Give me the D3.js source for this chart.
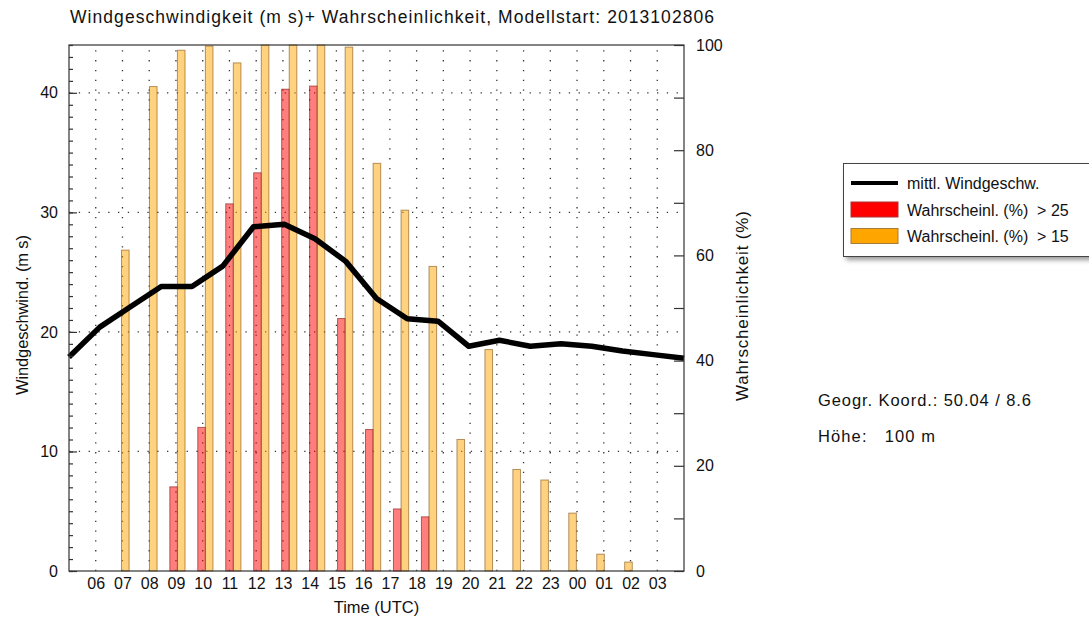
<!DOCTYPE html>
<html>
<head>
<meta charset="utf-8">
<script src="https://cdn.jsdelivr.net/npm/d3@7"></script>
<style>
body { margin: 0; background: #fff; }
text { font-family: "Liberation Sans", Arial, Helvetica, sans-serif; fill: #111; }
</style>
</head>
<body>
<script>
// hour labels on the time axis (UTC)
var hours = ["06","07","08","09","10","11","12","13","14","15","16","17","18","19","20","21","22","23","00","01","02","03"];
// probability (%) of wind > 25 m/s, one value per hour label
var probOver25 = [0,0,0,16.0,27.3,69.8,75.7,91.6,92.2,48.0,26.9,11.8,10.3,0,0,0,0,0,0,0,0,0];
// probability (%) of wind > 15 m/s
var probOver15 = [0,61.0,92.1,99.0,99.8,96.6,100,100,100,99.6,77.5,68.6,57.9,25.0,42.1,19.3,17.3,11.0,3.2,1.7,0,0];
// mean wind speed (m/s) along the run
var windSpeed = [17.9,20.4,22.1,23.8,23.8,25.5,28.8,29.0,27.8,25.9,22.8,21.1,20.9,18.8,19.3,18.8,19.0,18.8,18.4,18.1,17.8];
// axis ticks
var windTicks = [0,10,20,30,40];
var probTicks = [0,20,40,60,80,100];
var legendLabels = ["mittl. Windgeschw.", "Wahrscheinl. (%)  > 25", "Wahrscheinl. (%)  > 15"];

var W = 1089, H = 622;
var pLeft = 69, pRight = 684, pTop = 45, pBottom = 571;

var svg = d3.select("body").append("svg")
  .attr("width", W)
  .attr("height", H);

svg.append("rect").attr("width", W).attr("height", H).attr("fill", "#fff");

//scales: gridlines/labels use one time scale, the bars and the line sit on their own spacing
var timeX = d3.scaleLinear().domain([0, hours.length + 1]).range([pLeft, pRight]);
var barX = d3.scaleLinear().domain([0, hours.length]).range([pLeft, pRight]);
var lineX = d3.scaleLinear().domain([0, windSpeed.length - 1]).range([pLeft, pRight]);
var yWind = d3.scaleLinear().domain([0, 44]).range([pBottom, pTop]);
var yProb = d3.scaleLinear().domain([0, 100]).range([pBottom, pTop]);

//dotted grid
var grid = svg.append("g").attr("stroke", "#333").attr("stroke-width", 1.3).attr("stroke-dasharray", "1.3,8.5");
grid.selectAll(".vg").data(hours).enter().append("line")
  .attr("x1", function(d, i) { return timeX(i + 1); })
  .attr("x2", function(d, i) { return timeX(i + 1); })
  .attr("y1", pBottom).attr("y2", pTop);
grid.selectAll(".hg").data(windTicks.slice(1)).enter().append("line")
  .attr("x1", pLeft).attr("x2", pRight)
  .attr("y1", function(d) { return yWind(d); })
  .attr("y2", function(d) { return yWind(d); });

//bars, red ones just left of the orange ones
var bw = 7.6;
var bars = svg.append("g");
probOver25.forEach(function(v, i) {
  if (v <= 0) return;
  bars.append("rect")
    .attr("x", barX(i + 1) - 3.4 - bw)
    .attr("y", yProb(v))
    .attr("width", bw)
    .attr("height", pBottom - yProb(v))
    .attr("fill", "rgba(255,0,0,0.5)")
    .attr("stroke", "rgba(120,0,0,0.55)")
    .attr("stroke-width", 1);
});
probOver15.forEach(function(v, i) {
  if (v <= 0) return;
  bars.append("rect")
    .attr("x", barX(i + 1) - 3.4)
    .attr("y", yProb(v))
    .attr("width", bw)
    .attr("height", pBottom - yProb(v))
    .attr("fill", "rgba(255,165,0,0.5)")
    .attr("stroke", "rgba(120,70,0,0.55)")
    .attr("stroke-width", 1);
});

//mean wind speed line
var line = d3.line()
  .x(function(d, i) { return lineX(i); })
  .y(function(d) { return yWind(d); });
svg.append("path")
  .datum(windSpeed)
  .attr("d", line)
  .attr("fill", "none")
  .attr("stroke", "#000")
  .attr("stroke-width", 5.5)
  .attr("stroke-linejoin", "round");

//frame
svg.append("rect")
  .attr("x", pLeft).attr("y", pTop)
  .attr("width", pRight - pLeft).attr("height", pBottom - pTop)
  .attr("fill", "none").attr("stroke", "#333").attr("stroke-width", 1.2);

//left axis: minor ticks inward, labels outside
svg.append("g").attr("class", "axis")
  .attr("transform", "translate(" + pLeft + ",0)")
  .call(d3.axisRight(yWind).tickValues(d3.range(0, 45)).tickSize(4).tickFormat(""));
svg.append("g").attr("class", "axis")
  .attr("transform", "translate(" + pLeft + ",0)")
  .call(d3.axisRight(yWind).tickValues(windTicks).tickSize(8).tickFormat(""));
svg.append("g").attr("class", "axis lab")
  .attr("transform", "translate(" + pLeft + ",0)")
  .call(d3.axisLeft(yWind).tickValues(windTicks).tickSize(0).tickPadding(11));

//right axis
svg.append("g").attr("class", "axis")
  .attr("transform", "translate(" + pRight + ",0)")
  .call(d3.axisLeft(yProb).tickValues(d3.range(0, 101, 10)).tickSize(10).tickFormat(""));
svg.append("g").attr("class", "axis lab")
  .attr("transform", "translate(" + pRight + ",0)")
  .call(d3.axisRight(yProb).tickValues(probTicks).tickSize(0).tickPadding(12));

//time labels
svg.append("g").attr("class", "axis lab")
  .attr("transform", "translate(0," + pBottom + ")")
  .call(d3.axisBottom(timeX).tickValues(d3.range(1, hours.length + 1))
    .tickFormat(function(i) { return hours[i - 1]; }).tickSize(0).tickPadding(7));

svg.selectAll(".axis .domain").remove();
svg.selectAll(".axis line").attr("stroke", "#333").attr("stroke-width", 1.2);
svg.selectAll(".lab text").attr("font-size", 16).attr("font-family", null).attr("fill", "#111");

//titles
svg.append("text").attr("x", 70).attr("y", 23).attr("font-size", 17.5)
  .attr("textLength", 644).attr("lengthAdjust", "spacing")
  .text("Windgeschwindigkeit (m s)+ Wahrscheinlichkeit, Modellstart: 2013102806");
svg.append("text").attr("text-anchor", "middle").attr("font-size", 16.5)
  .attr("transform", "translate(28,315)rotate(-90)")
  .attr("textLength", 160).attr("lengthAdjust", "spacing")
  .text("Windgeschwind. (m s)");
svg.append("text").attr("text-anchor", "middle").attr("font-size", 17)
  .attr("transform", "translate(748,306)rotate(-90)")
  .attr("textLength", 190).attr("lengthAdjust", "spacing")
  .text("Wahrscheinlichkeit (%)");
svg.append("text").attr("text-anchor", "middle").attr("font-size", 16.5)
  .attr("x", (pLeft + pRight) / 2).attr("y", 613)
  .text("Time (UTC)");

//legend with a soft shadow
var defs = svg.append("defs");
var f = defs.append("filter").attr("id", "shadow").attr("x", "-10%").attr("y", "-10%").attr("width", "130%").attr("height", "140%");
f.append("feGaussianBlur").attr("stdDeviation", 2.5);
svg.append("rect").attr("x", 846).attr("y", 167).attr("width", 260).attr("height", 93)
  .attr("fill", "#999").attr("filter", "url(#shadow)");
svg.append("rect").attr("x", 843.5).attr("y", 163.5).attr("width", 260).attr("height", 93)
  .attr("fill", "#fff").attr("stroke", "#444").attr("stroke-width", 1);

var leg = svg.append("g");
leg.append("line").attr("x1", 851).attr("x2", 898).attr("y1", 183).attr("y2", 183)
  .attr("stroke", "#000").attr("stroke-width", 4);
leg.append("rect").attr("x", 851).attr("y", 202).attr("width", 47).attr("height", 15)
  .attr("fill", "#ff0000").attr("stroke", "#a33");
leg.append("rect").attr("x", 851).attr("y", 228.5).attr("width", 47).attr("height", 15)
  .attr("fill", "#ffa500").attr("stroke", "#a87a3a");
leg.selectAll("text").data(legendLabels).enter().append("text")
  .attr("x", 907)
  .attr("y", function(d, i) { return 189 + i * 26.5; })
  .attr("font-size", 16)
  .style("white-space", "pre")
  .text(function(d) { return d; });

//station info
svg.append("text").attr("x", 818).attr("y", 406).attr("font-size", 16.5)
  .attr("textLength", 213).attr("lengthAdjust", "spacing")
  .text("Geogr. Koord.: 50.04 / 8.6");
svg.append("text").attr("x", 818).attr("y", 442).attr("font-size", 16.5)
  .style("white-space", "pre")
  .attr("textLength", 117).attr("lengthAdjust", "spacing")
  .text("Höhe:   100 m");
</script>
</body>
</html>
